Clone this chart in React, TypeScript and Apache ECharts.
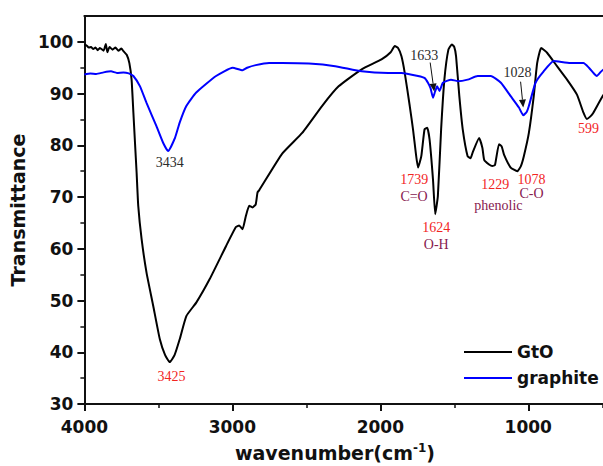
import React, { useEffect, useRef } from "react";
import * as echarts from "echarts";

// GtO spectrum (wavenumber cm-1, transmittance %)
const gtoWavenumber = [
  4000, 3985, 3970, 3955, 3940, 3925, 3910, 3895, 3870, 3855, 3845, 3830, 3810, 3790, 3770, 3750,
  3736, 3714, 3696, 3681, 3669, 3658, 3647, 3636, 3613, 3580, 3535, 3490, 3455, 3423, 3390, 3356,
  3311, 3244, 3154, 3043, 2976, 2954, 2931, 2909, 2886, 2864, 2842, 2830, 2819, 2663, 2528, 2394,
  2282, 2126, 1992, 1930, 1902, 1880, 1857, 1835, 1801, 1779, 1760, 1745, 1723, 1701, 1683, 1667,
  1644, 1629, 1611, 1589, 1567, 1540, 1517, 1500, 1488, 1466, 1443, 1410, 1390, 1376, 1332, 1310,
  1298, 1265, 1243, 1225, 1198, 1180, 1164, 1119, 1074, 1050, 1030, 996, 963, 940, 913, 873, 806,
  738, 671, 627, 604, 580, 560, 495, 450,
];
const gtoTransmittance = [
  99.5, 99.3, 98.9, 99.0, 98.6, 98.9, 98.4, 98.8, 98.3, 99.6, 98.0, 99.0, 98.5, 98.9, 98.3, 98.7,
  98.2, 97.5, 95.9, 92.7, 86.4, 80.5, 74.7, 68.3, 61.8, 55.4, 49.0, 42.5, 39.5, 38.1, 39.5, 42.5,
  47.0, 49.6, 54.1, 60.5, 64.2, 64.5, 63.8, 66.3, 68.3, 68.0, 68.6, 70.9, 71.3, 78.4, 82.4, 87.6,
  91.4, 94.7, 96.6, 98.0, 99.2, 98.8, 97.2, 94.0, 87.6, 83.1, 78.5, 75.7, 77.9, 83.1, 83.4, 81.1,
  73.4, 66.7, 70.2, 83.1, 92.7, 98.5, 99.5, 99.0, 97.2, 89.5, 83.1, 77.9, 77.5, 78.6, 81.4, 79.5,
  77.2, 76.3, 76.0, 76.2, 80.2, 79.8, 78.2, 75.7, 75.0, 76.0, 77.9, 82.4, 89.5, 95.9, 98.8, 97.9, 95.3,
  92.7, 89.8, 86.3, 85.1, 85.6, 86.3, 89.6, 91.0,
];

// graphite spectrum
const graphiteWavenumber = [
  4000, 3960, 3920, 3870, 3820, 3780, 3736, 3700, 3669, 3624, 3580, 3513, 3468, 3434, 3387, 3356,
  3311, 3244, 3110, 2998, 2931, 2900, 2842, 2752, 2663, 2483, 2305, 2126, 1946, 1857, 1745, 1700,
  1678, 1660, 1644, 1630, 1616, 1600, 1577, 1522, 1477, 1410, 1342, 1253, 1185, 1119, 1063, 1034,
  1010, 996, 951, 896, 828, 716, 627, 590, 560, 537, 510, 495, 450,
];
const graphiteTransmittance = [
  93.7, 93.9, 93.8, 94.1, 94.3, 94.0, 94.1, 93.9, 93.4, 91.4, 88.2, 83.7, 80.5, 78.9, 81.5, 84.4,
  87.6, 90.2, 93.4, 95.0, 94.5, 95.0, 95.5, 95.9, 95.9, 95.8, 95.3, 94.3, 94.0, 94.0, 93.4, 93.0,
  92.1, 91.0, 89.2, 90.4, 91.4, 90.5, 92.1, 92.7, 92.4, 92.7, 93.4, 93.4, 92.1, 89.5, 87.3, 85.8,
  86.5, 87.6, 92.1, 94.3, 96.3, 95.9, 95.9, 95.0, 94.0, 93.4, 94.2, 94.6, 95.0,
];

const xMajorTicks = [4000, 3000, 2000, 1000];
const xMinorTicks = [3500, 2500, 1500, 500];
const yMajorTicks = [30, 40, 50, 60, 70, 80, 90, 100];
const yMinorTicks = [35, 45, 55, 65, 75, 85, 95];

const RED = "#f2261f";
const GREY = "#2b2b2b";
const PURPLE = "#87204f";

// annotation labels in data coordinates
const annotationTexts = ["3434", "3425", "1633", "1028", "599", "1739", "C=O", "1624", "O-H", "1229", "phenolic", "1078", "C-O"];
const annotationX = [3423, 3412, 1703, 1072, 593, 1770, 1772, 1622, 1622, 1223, 1202, 978, 978];
const annotationY = [76.6, 35.4, 97.4, 94.1, 83.2, 73.4, 70.2, 64.2, 60.9, 72.4, 68.4, 73.3, 70.6];
const annotationColors = [GREY, RED, GREY, GREY, RED, RED, PURPLE, RED, PURPLE, RED, PURPLE, RED, PURPLE];

// arrows (from label to dip)
const arrowFrom = [[1663, 96.0], [1052, 92.3]];
const arrowTo = [[1636, 90.4], [1034, 87.3]];

const SANS = "DejaVu Sans";
const SERIF = "Liberation Serif";

export default function App() {
  const ref = useRef<HTMLDivElement>(null);

  useEffect(() => {
    if (!ref.current) return;
    const chart = echarts.init(ref.current, undefined, { renderer: "svg" });

    const gtoData = gtoWavenumber.map((w, i) => [w, gtoTransmittance[i]]);
    const graphiteData = graphiteWavenumber.map((w, i) => [w, graphiteTransmittance[i]]);

    const axisLabelStyle = {
      fontFamily: SANS,
      fontWeight: "bold" as const,
      fontSize: 17,
      color: "#111",
      formatter: (v: number) => String(v),
    };

    chart.setOption({
      animation: false,
      backgroundColor: "#fff",
      grid: { left: 81, right: 0, top: 16, bottom: 62, containLabel: false },
      legend: {
        data: ["GtO", "graphite"],
        orient: "vertical",
        left: 464,
        top: 343,
        padding: 0,
        icon: "rect",
        itemWidth: 48,
        itemHeight: 2,
        itemGap: 8,
        textStyle: { fontFamily: SANS, fontWeight: "bold", fontSize: 17, color: "#111", lineHeight: 18 },
      },
      xAxis: [
        {
          type: "value",
          inverse: true,
          min: 495,
          max: 4000,
          position: "bottom",
          axisLine: { show: true, onZero: false, lineStyle: { color: "#111", width: 2 } },
          axisTick: { show: true, inside: false, length: 7, customValues: xMajorTicks, lineStyle: { color: "#111", width: 2 } },
          axisLabel: { customValues: xMajorTicks, margin: 14, ...axisLabelStyle },
          splitLine: { show: false },
        },
        {
          type: "value",
          inverse: true,
          min: 495,
          max: 4000,
          position: "bottom",
          axisLine: { show: false },
          axisTick: { show: true, length: 4, customValues: xMinorTicks, lineStyle: { color: "#111", width: 1.5 } },
          axisLabel: { show: false },
          splitLine: { show: false },
        },
        {
          type: "value",
          inverse: true,
          min: 495,
          max: 4000,
          position: "top",
          axisLine: { show: true, onZero: false, lineStyle: { color: "#111", width: 2 } },
          axisTick: { show: false },
          axisLabel: { show: false },
          splitLine: { show: false },
        },
      ],
      yAxis: [
        {
          type: "value",
          min: 30,
          max: 105,
          position: "left",
          name: "Transmittance",
          nameLocation: "middle",
          nameGap: 42,
          nameTextStyle: { fontFamily: SANS, fontWeight: "bold", fontSize: 19, color: "#111" },
          axisLine: { show: true, onZero: false, lineStyle: { color: "#111", width: 2 } },
          axisTick: { show: true, length: 7, customValues: yMajorTicks, lineStyle: { color: "#111", width: 2 } },
          axisLabel: { customValues: yMajorTicks, margin: 11, ...axisLabelStyle },
          splitLine: { show: false },
        },
        {
          type: "value",
          min: 30,
          max: 105,
          position: "left",
          axisLine: { show: false },
          axisTick: { show: true, length: 4, customValues: yMinorTicks, lineStyle: { color: "#111", width: 1.5 } },
          axisLabel: { show: false },
          splitLine: { show: false },
        },
      ],
      series: [
        {
          name: "GtO",
          type: "line",
          xAxisIndex: 0,
          yAxisIndex: 0,
          data: gtoData,
          symbol: "none",
          showSymbol: false,
          smooth: 0.15,
          color: "#000",
          lineStyle: { color: "#000", width: 2 },
          z: 3,
        },
        {
          name: "graphite",
          type: "line",
          xAxisIndex: 0,
          yAxisIndex: 0,
          data: graphiteData,
          symbol: "none",
          showSymbol: false,
          smooth: 0.15,
          color: "#0000ff",
          lineStyle: { color: "#0000ff", width: 2 },
          z: 4,
        },
      ],
    });

    const toPx = (p: number[]) => chart.convertToPixel({ seriesIndex: 0 }, p) as number[];

    const graphics: any[] = [];
    annotationTexts.forEach((t, i) => {
      const [px, py] = toPx([annotationX[i], annotationY[i]]);
      graphics.push({
        type: "text",
        x: px,
        y: py,
        z: 10,
        style: {
          text: t,
          fill: annotationColors[i],
          font: `14px "${SERIF}"`,
          textAlign: "center",
          textVerticalAlign: "middle",
        },
      });
    });

    arrowFrom.forEach((f, i) => {
      const a = toPx(f);
      const b = toPx(arrowTo[i]);
      const dx = b[0] - a[0];
      const dy = b[1] - a[1];
      const len = Math.sqrt(dx * dx + dy * dy);
      const ux = dx / len;
      const uy = dy / len;
      const headLen = 8;
      const headHalf = 3.5;
      const bx = b[0] - ux * headLen;
      const by = b[1] - uy * headLen;
      graphics.push({
        type: "line",
        z: 10,
        shape: { x1: a[0], y1: a[1], x2: bx, y2: by },
        style: { stroke: "#111", lineWidth: 1 },
      });
      graphics.push({
        type: "polygon",
        z: 10,
        shape: {
          points: [
            [b[0], b[1]],
            [bx - uy * headHalf, by + ux * headHalf],
            [bx + uy * headHalf, by - ux * headHalf],
          ],
        },
        style: { fill: "#111" },
      });
    });

    graphics.push({
      type: "text",
      x: 335,
      y: 453,
      z: 10,
      style: {
        text: "{a|wavenumber(cm}{s|-1}{a|)}",
        textAlign: "center",
        textVerticalAlign: "middle",
        rich: {
          a: { fontFamily: SANS, fontWeight: "bold", fontSize: 19, fill: "#111", lineHeight: 22 },
          s: { fontFamily: SANS, fontWeight: "bold", fontSize: 12, fill: "#111", lineHeight: 12, verticalAlign: "top" },
        },
      },
    });

    chart.setOption({ graphic: graphics });

    return () => {
      chart.dispose();
    };
  }, []);

  return (
    <div
      ref={ref}
      style={{ position: "absolute", left: 0, top: 0, width: 603, height: 466, background: "#fff" }}
    />
  );
}
